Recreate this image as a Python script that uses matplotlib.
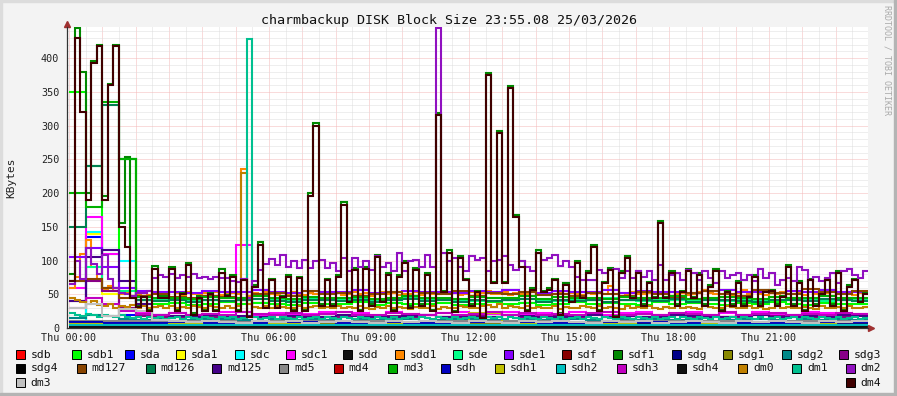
import numpy as np
import matplotlib.pyplot as plt
from matplotlib.patches import Rectangle
from matplotlib.ticker import MultipleLocator, FuncFormatter

plt.rcParams['font.family'] = ['DejaVu Sans Mono']

# KBytes, one value per 10 min (144), 30 min (48) or 1 h (24)
dm4 = [70, 430, 320, 190, 392, 418, 190, 360, 418, 150, 120, 45,
       31, 46, 25, 88, 45, 45, 87, 25, 50, 93, 20, 45,
       25, 50, 25, 82, 47, 75, 25, 71, 16, 61, 123, 30,
       71, 30, 46, 76, 25, 74, 25, 195, 300, 33, 71, 33,
       76, 182, 38, 86, 25, 88, 33, 105, 38, 78, 25, 76,
       96, 30, 86, 33, 78, 25, 315, 53, 111, 23, 104, 71,
       33, 53, 15, 375, 66, 289, 66, 355, 164, 90, 25, 57,
       111, 53, 57, 71, 20, 64, 38, 96, 44, 82, 120, 25,
       66, 86, 16, 82, 104, 44, 82, 33, 66, 44, 155, 44,
       82, 33, 53, 84, 44, 78, 33, 61, 84, 25, 53, 33,
       67, 33, 46, 76, 33, 53, 55, 33, 46, 90, 33, 67,
       25, 71, 33, 50, 71, 33, 82, 25, 61, 71, 38, 50]
sdf1 = [80, 445, 380, 200, 395, 420, 195, 362, 420, 155, 253, 48,
        33, 48, 27, 92, 47, 47, 90, 27, 52, 97, 22, 47,
        27, 52, 27, 88, 49, 78, 27, 73, 18, 63, 127, 32,
        73, 32, 48, 78, 27, 76, 27, 200, 304, 35, 73, 35,
        78, 186, 40, 89, 27, 91, 35, 108, 40, 81, 27, 78,
        99, 32, 89, 35, 81, 27, 318, 55, 116, 25, 107, 73,
        35, 55, 17, 378, 68, 292, 68, 358, 167, 99, 27, 59,
        115, 55, 59, 73, 22, 66, 40, 99, 46, 85, 123, 27,
        68, 89, 18, 85, 107, 46, 85, 35, 68, 46, 158, 46,
        85, 35, 55, 87, 46, 81, 35, 63, 87, 27, 55, 35,
        69, 35, 48, 79, 35, 55, 57, 35, 48, 93, 35, 69,
        27, 73, 35, 52, 73, 35, 85, 27, 63, 73, 40, 52]
dm2 = [65, 100, 72, 118, 95, 80, 108, 72, 60, 52, 50, 48,
       52, 52, 55, 74, 78, 76, 80, 74, 78, 76, 80, 74,
       76, 72, 76, 74, 74, 70, 68, 72, 45, 70, 86, 95,
       102, 94, 108, 90, 99, 89, 101, 89, 99, 101, 89, 96,
       84, 104, 84, 104, 90, 99, 86, 106, 90, 96, 84, 111,
       84, 99, 101, 90, 108, 90, 445, 111, 99, 104, 90, 84,
       106, 101, 104, 84, 99, 101, 106, 94, 86, 99, 90, 84,
       111, 101, 104, 108, 92, 99, 90, 76, 71, 71, 71, 86,
       81, 86, 88, 74, 84, 74, 84, 76, 84, 71, 94, 71,
       79, 81, 71, 86, 81, 71, 84, 74, 67, 84, 74, 79,
       81, 71, 79, 69, 88, 74, 81, 64, 71, 74, 69, 90,
       86, 71, 76, 69, 74, 81, 67, 84, 88, 79, 74, 84]
dm1 = [22, 20, 18, 21, 19, 17, 20, 18, 16, 19, 17, 15,
       16, 14, 17, 15, 16, 14, 15, 17, 14, 16, 15, 14,
       16, 15, 14, 17, 15, 16, 14, 15, 428, 16, 14, 15,
       17, 14, 16, 15, 13, 16, 14, 15, 17, 14, 16, 15,
       14, 16, 15, 13, 17, 15, 14, 16, 15, 14, 16, 13,
       15, 17, 14, 16, 15, 14, 16, 15, 13, 16, 14, 15,
       17, 15, 14, 16, 15, 17, 14, 16, 15, 14, 16, 15,
       14, 16, 15, 13, 16, 14, 15, 17, 14, 16, 15, 14,
       16, 15, 14, 17, 15, 14, 16, 15, 13, 16, 14, 15,
       17, 14, 16, 15, 14, 16, 15, 13, 16, 14, 15, 17,
       14, 16, 15, 14, 16, 13, 15, 16, 14, 15, 17, 14,
       16, 15, 14, 16, 15, 13, 16, 14, 15, 16, 14, 15]
dm0 = [45, 42, 38, 36, 40, 34, 32, 35, 30, 33, 31, 34,
       30, 32, 29, 31, 33, 30, 32, 29, 31, 30, 33, 31,
       30, 32, 31, 29, 33, 30, 32, 230, 35, 31, 29, 32,
       30, 33, 31, 30, 29, 32, 30, 31, 33, 29, 31, 30,
       32, 30, 31, 29, 32, 30, 28, 31, 30, 32, 29, 31,
       30, 28, 31, 29, 30, 32, 28, 31, 30, 29, 33, 31,
       29, 30, 32, 34, 31, 36, 30, 33, 31, 29, 32, 30,
       31, 29, 30, 32, 28, 31, 30, 29, 33, 31, 30, 32,
       29, 31, 30, 28, 32, 30, 31, 29, 33, 30, 28, 31,
       30, 32, 29, 31, 30, 28, 32, 31, 29, 30, 33, 31,
       30, 29, 32, 30, 31, 28, 30, 32, 29, 31, 30, 29,
       31, 30, 28, 32, 30, 29, 31, 30, 32, 29, 30, 31]
sdd1 = [60, 75, 110, 130, 90, 70, 58, 62, 55, 50, 52, 48,
        50, 52, 49, 53, 51, 50, 54, 52, 49, 53, 51, 50,
        52, 50, 53, 49, 51, 52, 50, 235, 48, 52, 50, 53,
        51, 49, 52, 50, 53, 51, 49, 52, 50, 54, 51, 50,
        52, 49, 51, 53, 50, 52, 48, 51, 53, 50, 52, 49,
        51, 50, 53, 49, 52, 50, 51, 54, 50, 52, 49, 51,
        53, 50, 52, 55, 51, 50, 53, 49, 52, 50, 51, 53,
        50, 52, 49, 51, 53, 50, 52, 51, 49, 53, 50, 52,
        51, 62, 50, 52, 49, 53, 51, 50, 52, 54, 50, 51,
        53, 50, 52, 49, 51, 53, 57, 52, 50, 51, 53, 49,
        52, 57, 50, 53, 51, 49, 52, 50, 54, 51, 50, 52,
        49, 53, 51, 50, 52, 55, 50, 51, 53, 49, 52, 51]

sdb1 = [350, 240, 110, 250, 36, 35, 37, 34, 36, 38, 35, 37, 36, 34, 37, 35,
        36, 38, 34, 37, 35, 36, 37, 34, 36, 38, 35, 37, 34, 36, 38, 35,
        37, 36, 34, 38, 35, 37, 36, 34, 37, 35, 38, 36, 34, 37, 36, 35]
sda = [8, 135, 60, 20, 8, 6, 7, 5, 6, 8, 5, 7, 6, 5, 8, 6,
       7, 5, 6, 8, 6, 5, 7, 6, 8, 5, 6, 7, 5, 8, 6, 7,
       5, 6, 8, 6, 5, 7, 6, 8, 5, 6, 7, 5, 6, 8, 6, 7]
sda1 = [6, 140, 50, 12, 4, 3, 4, 5, 3, 4, 3, 5, 4, 3, 4, 5,
        3, 4, 5, 4, 5, 3, 4, 3, 6, 4, 3, 5, 4, 3, 4, 5,
        3, 4, 3, 4, 5, 3, 4, 3, 5, 4, 3, 4, 5, 3, 4, 3]
sdc = [10, 142, 115, 100, 6, 5, 5, 6, 5, 4, 5, 6, 5, 5, 4, 6,
       5, 5, 6, 4, 5, 6, 5, 5, 4, 6, 5, 5, 6, 4, 5, 5,
       6, 5, 4, 6, 5, 5, 4, 6, 5, 5, 6, 4, 5, 6, 5, 5]
sdc1 = [60, 165, 110, 60, 24, 20, 22, 18, 21, 23, 123, 20, 22, 19, 21, 24,
        20, 22, 18, 23, 21, 19, 22, 24, 20, 21, 23, 19, 22, 20, 24, 21,
        19, 22, 23, 20, 21, 24, 19, 22, 20, 23, 21, 19, 24, 22, 20, 21]
sde = [70, 90, 60, 55, 42, 41, 43, 40, 42, 44, 41, 43, 42, 40, 44, 42,
       41, 43, 40, 42, 44, 41, 43, 42, 40, 44, 41, 43, 42, 40, 43, 41,
       44, 42, 40, 43, 41, 42, 44, 40, 43, 42, 41, 44, 42, 40, 43, 42]
sde1 = [105, 118, 90, 60, 55, 53, 54, 52, 55, 53, 54, 56, 53, 52, 55, 54,
        53, 56, 52, 54, 55, 53, 54, 52, 55, 53, 56, 54, 52, 55, 53, 54,
        56, 52, 55, 53, 54, 52, 55, 56, 53, 54, 52, 55, 53, 56, 54, 53]
sdg2 = [15, 20, 18, 14, 12, 13, 11, 12, 14, 13, 12, 11, 13, 12, 14, 12,
        11, 13, 12, 14, 13, 11, 12, 13, 14, 12, 11, 13, 12, 14, 13, 12,
        11, 13, 12, 14, 12, 13, 11, 12, 14, 13, 12, 11, 13, 12, 14, 12]
sdg3 = [40, 70, 55, 30, 18, 16, 17, 19, 16, 18, 17, 16, 19, 17, 18, 16,
        17, 19, 16, 18, 17, 19, 16, 17, 18, 16, 19, 17, 16, 18, 17, 19,
        16, 18, 17, 16, 19, 17, 18, 16, 17, 19, 18, 16, 17, 18, 16, 19]
md127 = [70, 72, 60, 45, 48, 50, 46, 44, 48, 46, 45, 50, 52, 48, 55, 50,
         52, 48, 50, 53, 47, 52, 50, 55, 48, 52, 50, 54, 49, 51, 47, 52,
         50, 48, 53, 50, 46, 52, 55, 50, 48, 56, 52, 50, 58, 54, 50, 55]
md126 = [150, 240, 330, 250, 42, 40, 41, 39, 42, 40, 41, 43, 40, 39, 42, 41,
         40, 42, 39, 41, 43, 40, 41, 39, 42, 40, 41, 43, 39, 42, 40, 41,
         39, 42, 41, 40, 43, 39, 41, 42, 40, 39, 42, 41, 40, 43, 41, 40]
md125 = [40, 105, 115, 70, 35, 20, 18, 17, 19, 16, 18, 17, 19, 18, 16, 17,
         19, 18, 17, 16, 18, 19, 17, 18, 16, 17, 19, 18, 17, 16, 18, 19,
         17, 18, 16, 17, 19, 18, 17, 16, 18, 19, 17, 16, 18, 17, 19, 18]
md3 = [200, 180, 335, 250, 46, 44, 45, 43, 46, 44, 45, 47, 44, 43, 46, 45,
       44, 46, 43, 45, 47, 44, 45, 43, 46, 44, 45, 47, 43, 46, 44, 45,
       43, 46, 45, 44, 47, 43, 45, 46, 44, 43, 46, 45, 44, 47, 45, 44]
sdh3 = [30, 45, 35, 25, 21, 20, 22, 19, 21, 20, 23, 21, 19, 22, 20, 21,
        23, 20, 19, 22, 21, 20, 22, 19, 21, 23, 20, 22, 19, 21, 20, 22,
        23, 19, 21, 20, 22, 21, 19, 23, 20, 21, 22, 19, 21, 20, 22, 21]
dm3 = [30, 35, 18, 28, 25, 12, 10, 9, 10, 9, 8, 10, 9, 10, 8, 9,
       10, 9, 8, 10, 9, 10, 9, 8, 10, 9, 8, 10, 9, 10, 9, 8,
       10, 9, 10, 8, 9, 10, 9, 8, 10, 9, 10, 9, 8, 10, 9, 10]

sdb = [4, 3, 3, 4, 3, 2, 3, 4, 3, 3, 2, 3, 4, 3, 3, 2, 3, 4, 3, 3, 2, 3, 3, 4]
sdd = [2, 1, 1, 2, 1, 1, 2, 1, 1, 2, 1, 1, 2, 1, 1, 2, 1, 1, 2, 1, 1, 2, 1, 1]
sdf = [5, 4, 4, 5, 4, 4, 5, 4, 5, 4, 4, 5, 4, 4, 5, 4, 4, 5, 4, 4, 5, 4, 4, 5]
sdg = [8, 7, 7, 8, 7, 6, 7, 8, 7, 7, 6, 7, 8, 7, 7, 6, 7, 8, 7, 7, 6, 7, 7, 8]
sdg1 = [6, 6, 5, 6, 6, 5, 6, 6, 5, 6, 6, 5, 6, 6, 5, 6, 6, 5, 6, 6, 5, 6, 6, 5]
sdg4 = [1, 1, 2, 1, 1, 2, 1, 1, 2, 1, 1, 2, 1, 1, 2, 1, 1, 2, 1, 1, 2, 1, 1, 2]
md5 = [11, 10, 10, 11, 10, 9, 10, 11, 10, 10, 9, 10, 11, 10, 10, 9, 10, 11, 10, 10, 9, 10, 10, 11]
md4 = [4, 5, 4, 4, 5, 4, 4, 5, 4, 4, 5, 4, 4, 5, 4, 4, 5, 4, 4, 5, 4, 4, 5, 4]
sdh = [9, 8, 8, 9, 8, 7, 8, 9, 8, 8, 7, 8, 9, 8, 8, 7, 8, 9, 8, 8, 7, 8, 8, 9]
sdh1 = [6, 5, 5, 6, 5, 5, 6, 5, 5, 6, 5, 5, 22, 6, 5, 5, 6, 5, 5, 6, 5, 5, 6, 5]
sdh2 = [5, 4, 5, 5, 4, 5, 5, 4, 5, 5, 4, 5, 5, 4, 5, 5, 4, 5, 5, 4, 5, 5, 4, 5]
sdh4 = [1, 2, 1, 1, 2, 1, 1, 2, 1, 1, 2, 1, 1, 2, 1, 1, 2, 1, 1, 2, 1, 1, 2, 1]

names = ['sdb', 'sdb1', 'sda', 'sda1', 'sdc', 'sdc1', 'sdd', 'sdd1', 'sde', 'sde1',
         'sdf', 'sdf1', 'sdg', 'sdg1', 'sdg2', 'sdg3', 'sdg4', 'md127', 'md126',
         'md125', 'md5', 'md4', 'md3', 'sdh', 'sdh1', 'sdh2', 'sdh3', 'sdh4',
         'dm0', 'dm1', 'dm2', 'dm3', 'dm4']
series = [sdb, sdb1, sda, sda1, sdc, sdc1, sdd, sdd1, sde, sde1,
          sdf, sdf1, sdg, sdg1, sdg2, sdg3, sdg4, md127, md126,
          md125, md5, md4, md3, sdh, sdh1, sdh2, sdh3, sdh4,
          dm0, dm1, dm2, dm3, dm4]
colors = ['#ff0000', '#00ff00', '#0000ff', '#ffff00', '#00ffff', '#ff00ff', '#111111',
          '#ff8800', '#00ff88', '#8800ff', '#880000', '#008800', '#000088', '#888800',
          '#008888', '#880088', '#000000', '#884400', '#008050', '#440088', '#888888',
          '#c00000', '#00b000', '#0000c0', '#c0c000', '#00c0c0', '#c000c0', '#111111',
          '#c08000', '#00c090', '#9010c0', '#c0c0c0', '#400000']

for s in series:
    assert len(s) in (24, 48, 144), len(s)

W, H = 897, 396
fig = plt.figure(figsize=(W / 100, H / 100), dpi=100, facecolor='#f3f3f3')
ax = fig.add_axes([67 / W, 68 / H, 801 / W, 301 / H])
ax.set_facecolor('white')

for vals, col in zip(series, colors):
    edges = np.arange(len(vals) + 1) * 24.0 / len(vals)
    ax.stairs(vals, edges, baseline=None, color=col, lw=1.5)

ax.set_xlim(-0.06, 23.97)
ax.set_ylim(0, 446)

ax.xaxis.set_major_locator(MultipleLocator(1))
ax.xaxis.set_minor_locator(MultipleLocator(0.5))
ax.yaxis.set_major_locator(MultipleLocator(50))
ax.yaxis.set_minor_locator(MultipleLocator(10))
ax.set_axisbelow(True)
ax.grid(which='major', color='#f4b8b8', ls=(0, (1, 1)), lw=0.72)
ax.grid(which='minor', color='#dedede', ls=(0, (1, 1)), lw=0.72)

def xfmt(v, p):
    h = int(round(v))
    if h % 3 == 0 and abs(v - h) < 1e-6:
        return 'Thu %02d:00' % h
    return ''

ax.xaxis.set_major_formatter(FuncFormatter(xfmt))
ax.yaxis.set_major_formatter(FuncFormatter(lambda v, p: '%d' % v))
ax.tick_params(which='both', length=0, labelsize=7.3, colors='#222222')
ax.tick_params(axis='x', pad=3.6)
ax.tick_params(axis='y', pad=5.5)

for side in ['top', 'right']:
    ax.spines[side].set_visible(False)
for side in ['left', 'bottom']:
    ax.spines[side].set_color('#333333')
    ax.spines[side].set_linewidth(0.9)

# axis arrows
ax.plot([0, 0], [1, 1.015], color='#333333', lw=0.9, transform=ax.transAxes, clip_on=False)
ax.plot([1, 1.006], [0, 0], color='#333333', lw=0.9, transform=ax.transAxes, clip_on=False)
ax.plot(0, 1.01, marker='^', ms=4.5, color='#a03030', transform=ax.transAxes, clip_on=False)
ax.plot(1.004, 0, marker='>', ms=4.5, color='#a03030', transform=ax.transAxes, clip_on=False)

fig.text(0.5, 1 - 24 / H, 'charmbackup DISK Block Size 23:55.08 25/03/2026',
         ha='center', va='baseline', fontsize=9.6, color='#111111')
fig.text(11 / W, 1 - 178 / H, 'KBytes', rotation=90, ha='center', va='center',
         fontsize=8, color='#222222')
fig.text(886.5 / W, 1 - 5 / H, 'RRDTOOL / TOBI OETIKER', rotation=270, ha='center',
         va='top', fontsize=6, color='#aaaaaa')

# legend, laid out like rrdtool
rows_x = [[15.7, 72.3, 125, 176, 235, 286, 343, 395, 453, 504, 562, 613, 672, 723, 782, 839],
          [15.7, 76.7, 145.7, 212.3, 279.3, 334, 388.3, 440.7, 495, 555.7, 616.7, 677.3,
           738.3, 792.3, 846],
          [15.7, 846]]
rows_y = [354.5, 368, 382.5]
k = 0
for xs, yc in zip(rows_x, rows_y):
    for x in xs:
        fig.add_artist(Rectangle((x / W, 1 - (yc + 4.5) / H), 9 / W, 9 / H,
                                 transform=fig.transFigure, facecolor=colors[k],
                                 edgecolor='black', lw=0.7))
        fig.text((x + 14.7) / W, 1 - yc / H, names[k], ha='left', va='center',
                 fontsize=8.2, color='#111111')
        k += 1

# frame
fig.add_artist(Rectangle((0, 0), 2 / W, 1, transform=fig.transFigure, color='#dcdcdc'))
fig.add_artist(Rectangle((0, 1 - 2 / H), 1, 2 / H, transform=fig.transFigure, color='#dcdcdc'))
fig.add_artist(Rectangle((1 - 3 / W, 0), 3 / W, 1, transform=fig.transFigure, color='#b4b4b4'))
fig.add_artist(Rectangle((0, 0), 1, 3 / H, transform=fig.transFigure, color='#b4b4b4'))

fig.savefig('out.png', dpi=100, facecolor=fig.get_facecolor())
